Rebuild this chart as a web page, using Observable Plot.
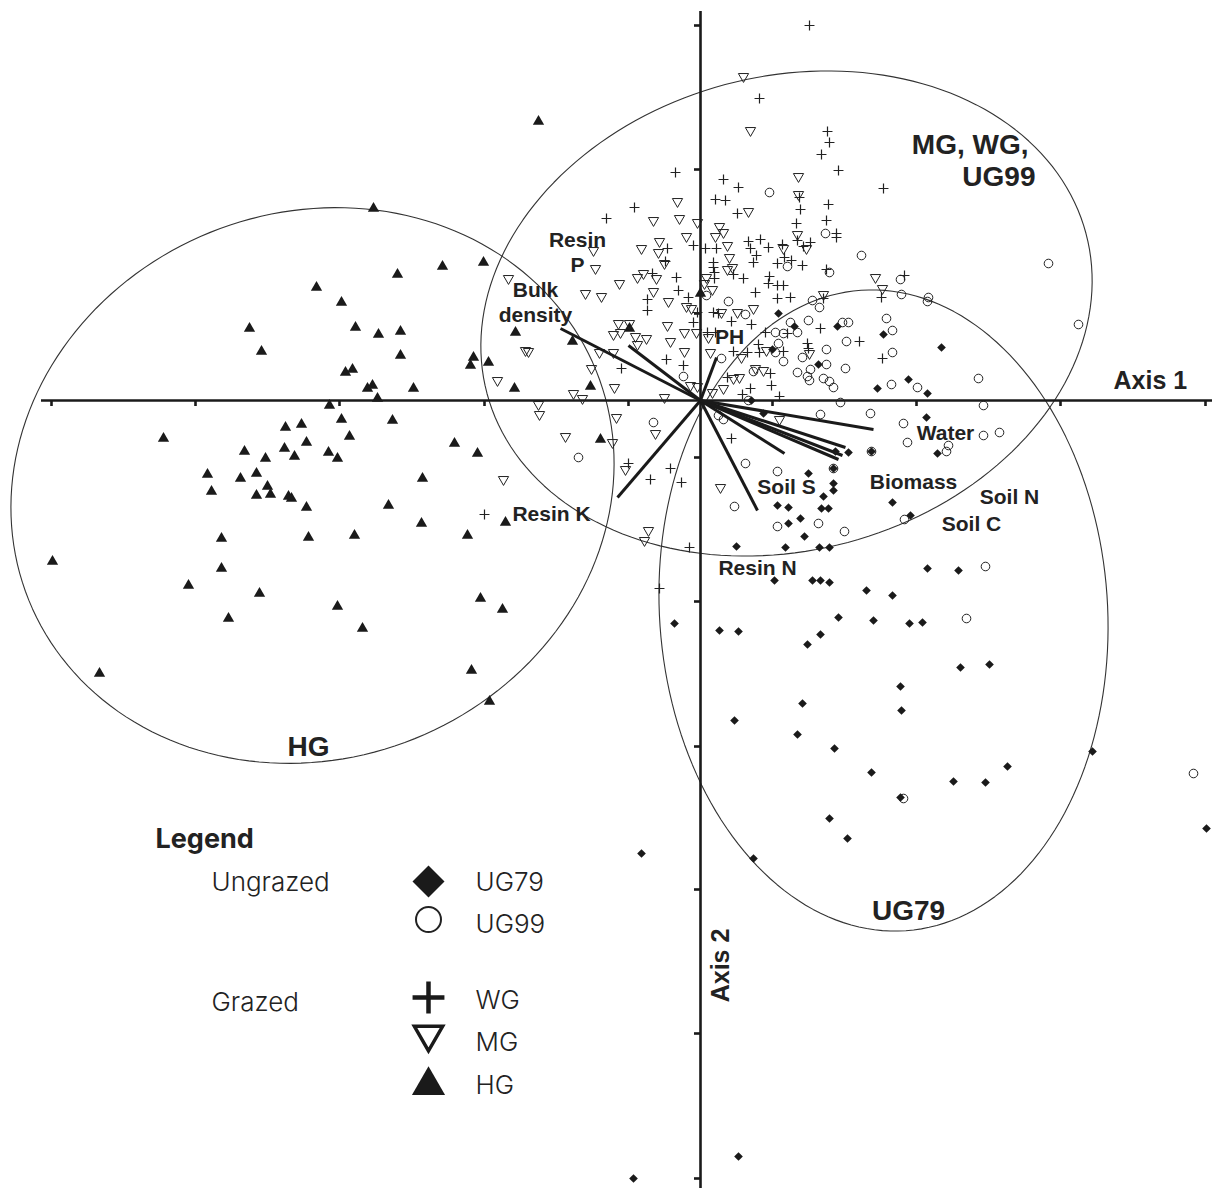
<!DOCTYPE html>
<html><head><meta charset="utf-8">
<script src="https://cdn.jsdelivr.net/npm/d3@7"></script>
<script src="https://cdn.jsdelivr.net/npm/@observablehq/plot@0.6"></script>
<style>html,body{margin:0;padding:0;background:#fff}#chart svg{display:block}</style>
</head><body><div id="chart"></div>
<script>
// Ordination scores (axis 1, axis 2) (arbitrary units, 144 units per tick)
const HG = [[-327,192],[-303,126],[-384,113],[-359,98],[-451,72],[-345,73],[-322,66],[-300,69],[-439,49],[-300,45],[-355,28],[-348,31],[-333,12],[-328,15],[-323,2],[-162,279],[-258,134],[-217,138],[-185,68],[-128,59],[-227,43],[-230,35],[-212,38],[-287,12],[-186,12],[-110,14],[-71,72],[0,107],[-371,-5],[-359,-19],[-308,-20],[-415,-27],[-399,-24],[-537,-38],[-351,-36],[-394,-42],[-456,-51],[-416,-48],[-435,-58],[-406,-56],[-372,-52],[-363,-58],[-493,-74],[-460,-78],[-444,-73],[-433,-86],[-430,-94],[-489,-91],[-444,-95],[-412,-96],[-409,-98],[-394,-107],[-312,-105],[-479,-138],[-392,-137],[-346,-135],[-648,-161],[-479,-168],[-512,-185],[-441,-193],[-363,-206],[-472,-218],[-338,-228],[-601,-273],[-246,-43],[-223,-53],[-278,-78],[-279,-123],[-233,-135],[-195,-122],[-100,-39],[-220,-198],[-198,-209],[-229,-270],[-211,-301]];
const MG = [[43,324],[50,270],[-23,199],[-47,180],[-21,182],[-3,178],[-14,164],[15,164],[19,174],[23,168],[-41,159],[-59,152],[-42,148],[-107,150],[-105,132],[-36,137],[-57,127],[-63,123],[-44,122],[-81,117],[-47,109],[-115,107],[-99,104],[-32,99],[27,155],[29,143],[32,133],[27,131],[6,123],[4,117],[12,111],[48,189],[83,152],[97,166],[98,224],[98,206],[106,152],[-192,122],[-175,50],[-172,49],[-82,77],[-71,77],[-87,66],[-80,68],[-65,64],[-63,56],[-54,62],[-33,75],[-16,68],[-4,68],[8,63],[-30,59],[-16,49],[-101,48],[-87,48],[10,48],[-109,32],[-203,20],[-127,7],[-118,2],[-86,13],[-36,3],[-10,15],[-3,14],[12,8],[41,43],[33,22],[39,23],[23,12],[55,32],[63,30],[-9,92],[-14,94],[53,92],[21,88],[37,88],[175,123],[182,112],[123,106],[66,50],[109,47],[-45,-33],[79,-19],[20,-87],[-52,-130],[-56,-140],[-161,-14],[-162,-4],[-84,-17],[-135,-36],[-88,-42],[-197,-79],[-75,-69]];
const WG = [[109,375],[59,302],[127,269],[129,258],[121,246],[138,230],[183,212],[-25,228],[23,221],[38,213],[15,201],[25,200],[37,187],[-66,193],[-94,182],[99,203],[100,191],[96,177],[128,196],[126,180],[136,167],[136,163],[97,160],[110,158],[103,154],[48,159],[60,161],[68,153],[50,152],[82,156],[-7,155],[5,152],[16,152],[-33,152],[-35,139],[56,145],[53,138],[77,137],[84,143],[91,140],[102,135],[13,138],[13,133],[14,128],[14,122],[33,126],[43,122],[69,124],[68,117],[77,115],[83,115],[-22,110],[-53,101],[-53,90],[-24,123],[-48,127],[-12,103],[55,108],[77,102],[90,103],[13,88],[18,87],[-3,88],[-7,78],[7,68],[15,68],[31,79],[51,76],[65,68],[87,67],[33,49],[47,48],[59,48],[83,49],[-34,41],[-17,35],[-79,32],[50,12],[42,6],[71,15],[70,27],[79,4],[27,23],[126,131],[204,125],[181,103],[123,102],[120,72],[159,59],[58,56],[107,57],[108,52],[182,42],[31,-38],[-30,-68],[-50,-79],[-19,-82],[-11,-147],[-72,-63],[-216,-114],[-41,-188]];
const UG99 = [[69,208],[87,134],[6,105],[28,99],[45,86],[21,42],[-17,24],[53,29],[83,39],[75,48],[78,57],[90,78],[75,68],[83,67],[97,28],[125,167],[161,145],[129,128],[200,121],[201,106],[112,100],[119,93],[97,68],[108,80],[142,78],[148,78],[186,82],[192,70],[146,59],[102,43],[126,51],[192,48],[126,36],[145,32],[110,31],[107,24],[109,20],[123,22],[129,19],[133,13],[191,16],[217,13],[140,-2],[348,137],[228,103],[227,99],[378,76],[278,22],[170,-13],[120,-14],[18,-15],[23,-19],[-47,-22],[45,-63],[77,-71],[34,-106],[118,-123],[77,-126],[144,-131],[283,-5],[203,-23],[207,-42],[283,-35],[299,-32],[248,-45],[246,-51],[171,-51],[133,-68],[204,-119],[285,-166],[266,-218],[203,-398],[493,-373],[-122,-57],[48,0]];
const UG79 = [[78,87],[72,51],[94,74],[51,0],[137,74],[183,66],[118,36],[177,12],[208,21],[241,53],[227,7],[63,-13],[226,-17],[237,-53],[171,-51],[148,-52],[135,-51],[133,-68],[108,-73],[133,-83],[133,-90],[123,-96],[121,-108],[128,-108],[192,-102],[210,-115],[100,-118],[104,-136],[119,-147],[129,-147],[227,-168],[258,-170],[112,-180],[120,-180],[129,-182],[166,-190],[192,-195],[138,-217],[173,-220],[209,-223],[222,-222],[120,-234],[107,-244],[260,-267],[289,-264],[200,-286],[201,-310],[102,-303],[97,-334],[134,-348],[392,-351],[307,-366],[171,-372],[253,-381],[285,-382],[200,-397],[77,-105],[88,-107],[88,-123],[36,-146],[85,-147],[74,-180],[-26,-223],[19,-230],[38,-231],[34,-320],[-59,-453],[53,-458],[38,-756],[-67,-778],[129,-418],[147,-438],[506,-428]];

// Environmental vectors (biplot arrow tips)
const vectorNames = ["Bulk density","Resin P","PH","Resin K","Soil S","Resin N","Biomass","Soil N","Soil C","Water"];
const vectorX = [-140,-72,16,-83,57,84,145,138,142,173];
const vectorY = [72,55,43,-97,-110,-53,-47,-59,-55,-29];

// Group ellipses: centre, semi-axes, tilt (degrees)
const ellipseNames = ["HG","MG, WG, UG99","UG79"];
const ellipseCX = [-388,86,183];
const ellipseCY = [-85,87,-210];
const ellipseA = [306,310,224];
const ellipseB = [273,237,321];
const ellipseTilt = [22,15,4];

// Axis tick positions
const xTicks = [-649,-505,-361,-216,-72,72,216,360,505];
const yTicks = [375,231,87,-57,-201,-346,-489,-633,-778];

// Legend
const legendGroups = ["Ungrazed","Grazed"];
const legendNames = ["UG79","UG99","WG","MG","HG"];

// ---------- layout ----------
const pts = (arr) => arr.map(([x, y]) => ({x, y}));
const vectors = vectorNames.map((n, i) => ({name: n, x: vectorX[i], y: vectorY[i]}));

const ellipses = [];
ellipseNames.forEach((n, i) => {
  const th = ellipseTilt[i] * Math.PI / 180;
  for (let k = 0; k <= 360; k += 2) {
    const t = k * Math.PI / 180;
    const ex = ellipseA[i] * Math.cos(t), ey = ellipseB[i] * Math.sin(t);
    ellipses.push({g: n, x: ellipseCX[i] + ex * Math.cos(th) - ey * Math.sin(th), y: ellipseCY[i] + ex * Math.sin(th) + ey * Math.cos(th)});
  }
});

const vecLabelLayout = [
  {t: "Resin\nP", x: -123, y: 129},
  {t: "Bulk\ndensity", x: -165, y: 79},
  {t: "PH", x: 29, y: 57},
  {t: "Resin K", x: -149, y: -120},
  {t: "Soil S", x: 86, y: -93},
  {t: "Resin N", x: 57, y: -174},
  {t: "Water", x: 245, y: -39},
  {t: "Biomass", x: 213, y: -88},
  {t: "Soil N", x: 309, y: -103},
  {t: "Soil C", x: 271, y: -130}
];
const groupLabelsEnd = [
  {t: "MG, WG,", x: 328, y: 247},
  {t: "UG99", x: 335, y: 215}
];
const groupLabelsMid = [
  {t: "HG", x: -392, y: -355},
  {t: "UG79", x: 208, y: -519}
];

const boldFont = "'Liberation Sans', Arial, Helvetica, sans-serif";
const legendFont = "Inter, 'DejaVu Sans', sans-serif";
const ink = "#1a1a1a";

const legSymX = -272, legTextX = -225;
const legY = [-481, -519, -597, -634, -685];
const legTextY = [-490, -532, -608, -650, -693];

const chart = Plot.plot({
  width: 1218,
  height: 1188,
  margin: 0,
  x: {domain: [-700, 518], axis: null},
  y: {domain: [-788, 400], axis: null},
  style: {background: "#fff"},
  marks: [
    Plot.line(ellipses, {x: "x", y: "y", z: "g", stroke: "#333", strokeWidth: 1.1}),
    Plot.ruleY([0], {x1: -659, x2: 512, stroke: ink, strokeWidth: 2.6}),
    Plot.ruleX([0], {y1: 389, y2: -788, stroke: ink, strokeWidth: 2.6}),
    Plot.ruleX(xTicks, {x: d => d, y1: 0, y2: -6, stroke: ink, strokeWidth: 2.6}),
    Plot.ruleY(yTicks, {y: d => d, x1: -6, x2: 0, stroke: ink, strokeWidth: 2.6}),
    // samples
    Plot.dot(pts(HG), {x: "x", y: "y", symbol: "triangle", r: 4.2, fill: ink, stroke: "none"}),
    Plot.dot(pts(MG), {x: "x", y: "y", symbol: "triangle", rotate: 180, r: 3.8, fill: "none", stroke: "#222", strokeWidth: 1}),
    Plot.dot(pts(WG), {x: "x", y: "y", symbol: "plus", r: 3.3, fill: "none", stroke: "#222", strokeWidth: 1.2}),
    Plot.dot(pts(UG99), {x: "x", y: "y", symbol: "circle", r: 4.3, fill: "none", stroke: "#222", strokeWidth: 1}),
    Plot.dot(pts(UG79), {x: "x", y: "y", symbol: "diamond2", r: 3.9, fill: ink, stroke: "none"}),
    // vectors
    Plot.link(vectors, {x1: 0, y1: 0, x2: "x", y2: "y", stroke: ink, strokeWidth: 3}),
    Plot.text(vecLabelLayout, {x: "x", y: "y", text: "t", fontSize: 21, fontWeight: "bold", fontFamily: boldFont, fill: "#222", lineAnchor: "bottom", lineHeight: 1.15, textAnchor: "middle"}),
    Plot.text(groupLabelsEnd, {x: "x", y: "y", text: "t", fontSize: 28, fontWeight: "bold", fontFamily: boldFont, fill: "#222", lineAnchor: "bottom", textAnchor: "end"}),
    Plot.text(groupLabelsMid, {x: "x", y: "y", text: "t", fontSize: 28, fontWeight: "bold", fontFamily: boldFont, fill: "#222", lineAnchor: "bottom", textAnchor: "middle"}),
    Plot.text(["Axis 1"], {x: 413, y: 12, text: d => d, fontSize: 25, fontWeight: "bold", fontFamily: boldFont, fill: "#222", lineAnchor: "bottom", textAnchor: "start"}),
    Plot.text(["Axis 2"], {x: 28, y: -565, text: d => d, rotate: -90, fontSize: 25, fontWeight: "bold", fontFamily: boldFont, fill: "#222", lineAnchor: "bottom", textAnchor: "middle"}),
    // legend
    Plot.text(["Legend"], {x: -545, y: -447, text: d => d, fontSize: 27, fontWeight: "bold", fontFamily: legendFont, fill: "#222", lineAnchor: "bottom", textAnchor: "start"}),
    Plot.text(legendGroups, {x: -489, y: (d, i) => [-490, -610][i], text: d => d, fontSize: 26, fontWeight: 300, fontFamily: legendFont, fill: "#222", lineAnchor: "bottom", textAnchor: "start"}),
    Plot.text(legendNames, {x: legTextX, y: (d, i) => legTextY[i], text: d => d, fontSize: 26, fontWeight: 300, fontFamily: legendFont, fill: "#222", lineAnchor: "bottom", textAnchor: "start"}),
    Plot.dot([legendNames[0]], {x: legSymX, y: legY[0], symbol: "diamond2", r: 14.4, fill: ink, stroke: "none"}),
    Plot.dot([legendNames[1]], {x: legSymX, y: legY[1], symbol: "circle", r: 12.5, fill: "none", stroke: "#222", strokeWidth: 2}),
    Plot.dot([legendNames[2]], {x: legSymX, y: legY[2], symbol: "plus", r: 10.3, fill: "none", stroke: ink, strokeWidth: 4.5}),
    Plot.dot([legendNames[3]], {x: legSymX, y: legY[3], symbol: "triangle", rotate: 180, r: 10.5, fill: "none", stroke: ink, strokeWidth: 3.5}),
    Plot.dot([legendNames[4]], {x: legSymX, y: legY[4], symbol: "triangle", r: 12.3, fill: ink, stroke: "none"})
  ]
});
document.getElementById("chart").append(chart);
</script>
</body></html>
